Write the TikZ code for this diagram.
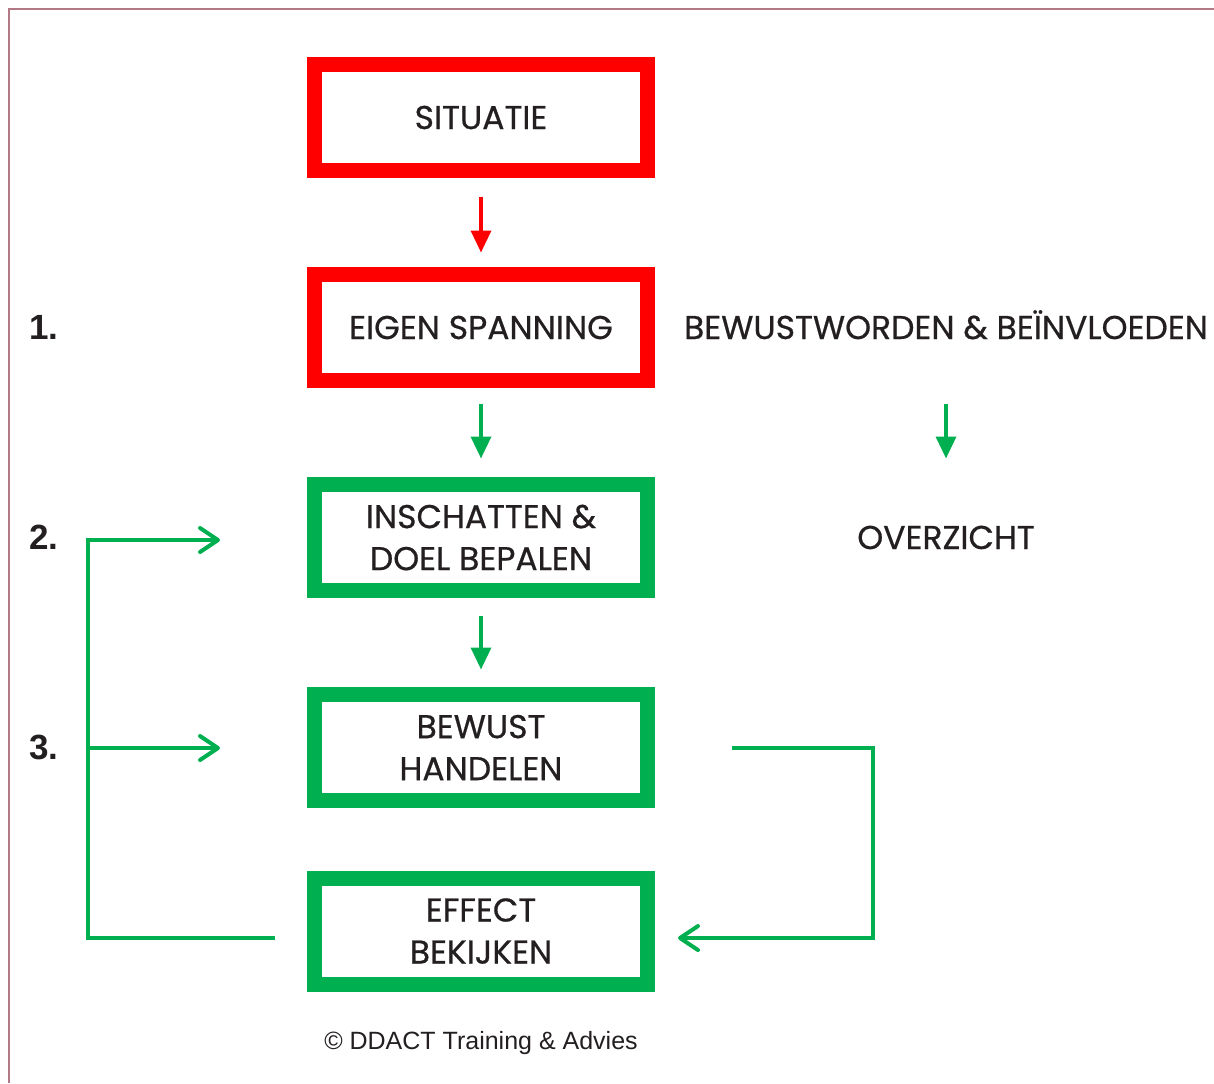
\documentclass[tikz,border=0pt]{standalone}
\usepackage{fontspec}
\usepackage{xcolor}
\usetikzlibrary{positioning, arrows.meta, calc}

\newfontfamily\boxfont[FakeBold=0.6]{Poppins}
\newfontfamily\markfont{Liberation Sans}

\definecolor{ddred}{HTML}{FF0000}
\definecolor{ddgreen}{HTML}{00B050}
\definecolor{ddtext}{HTML}{231F20}
\definecolor{ddframe}{HTML}{B27886}

\begin{document}
\begin{tikzpicture}[ x = 0.5pt, y = -0.5pt
                   , node distance = 52pt
                   , outer sep = 0pt
                   , >={Triangle[width=10pt, length=11pt]}
                   , stepbox/.style = { rectangle
                                      , draw
                                      , line width = 7.5pt
                                      , minimum width = 166.5pt
                                      , minimum height = 53pt
                                      , align = center
                                      , text = ddtext
                                      , font = \boxfont\fontsize{16.5}{21}\selectfont }
                   , plaintext/.style = { inner sep = 0pt
                                        , text = ddtext
                                        , text height = 11.5pt
                                        , text depth = 0pt
                                        , font = \boxfont\fontsize{16.5}{21}\selectfont }
                   , stepnr/.style = { inner sep = 0pt
                                     , anchor = west
                                     , text = ddtext
                                     , font = \markfont\bfseries\fontsize{17.5}{20}\selectfont }
                   , flow/.style = { ->, line width = 1.75pt }
                   , feedback/.style = { ddgreen
                                       , line width = 2pt
                                       , -{Straight Barb[round, width=12pt, length=9pt]} }
                   ]

  \useasboundingbox (0,0) rectangle (1214,1083);
  \fill[white] (0,0) rectangle (1214,1083);
  \draw[ddframe, line width = 1pt] (9,1083) -- (9,9) -- (1214,9);

  % main column
  \node (situatie) [stepbox, draw = ddred] at (481,117.5) {SITUATIE};
  \node (eigen) [stepbox, draw = ddred, below = of situatie] {EIGEN SPANNING};
  \node (inschatten) [stepbox, draw = ddgreen, below = of eigen] {INSCHATTEN \&\\ DOEL BEPALEN};
  \node (bewust) [stepbox, draw = ddgreen, below = of inschatten] {BEWUST\\ HANDELEN};
  \node (effect) [stepbox, draw = ddgreen, below = 38.75pt of bewust] {EFFECT\\ BEKIJKEN};

  % right column
  \node (beinvloeden) [plaintext] at (946,0 |- eigen) {BEWUSTWORDEN \& BEÏNVLOEDEN};
  \node (overzicht) [plaintext] at (beinvloeden |- inschatten) {OVERZICHT};

  % step numbers
  \node (nr1) [stepnr] at (29,0 |- eigen) {1.};
  \node (nr2) [stepnr] at (29,0 |- inschatten) {2.};
  \node (nr3) [stepnr] at (29,0 |- bewust) {3.};

  \node (copyright) [ below = 23.5pt of effect, inner sep = 0pt, text = ddtext
                    , font = \markfont\fontsize{12.5}{15}\selectfont]
    {© DDACT Training \& Advies};

  \draw[flow, ddred, shorten <= 13pt, shorten >= 11pt] (situatie) -- (eigen);
  \draw[flow, ddgreen, shorten <= 11.5pt, shorten >= 13pt] (eigen) -- (inschatten);
  \draw[flow, ddgreen, shorten <= 12.5pt, shorten >= 12.5pt] (inschatten) -- (bewust);
  \draw[flow, ddgreen, shorten <= 32.25pt, shorten >= 33.75pt] (beinvloeden) -- (overzicht);

  % feedback loops
  \coordinate (railleft) at (88,540);
  \coordinate (loopin2) at (220,540);
  \coordinate (loopin3) at (220,748);
  \coordinate (loopout) at (275,938);
  \coordinate (backout) at (732,748);
  \coordinate (railright) at (873,938);
  \coordinate (backin) at (678,938);

  \draw[feedback] (loopout) -| (railleft) -- (loopin2);
  \draw[feedback] (railleft |- loopin3) -- (loopin3);
  \draw[feedback] (backout) -| (railright) -- (backin);

\end{tikzpicture}
\end{document}
